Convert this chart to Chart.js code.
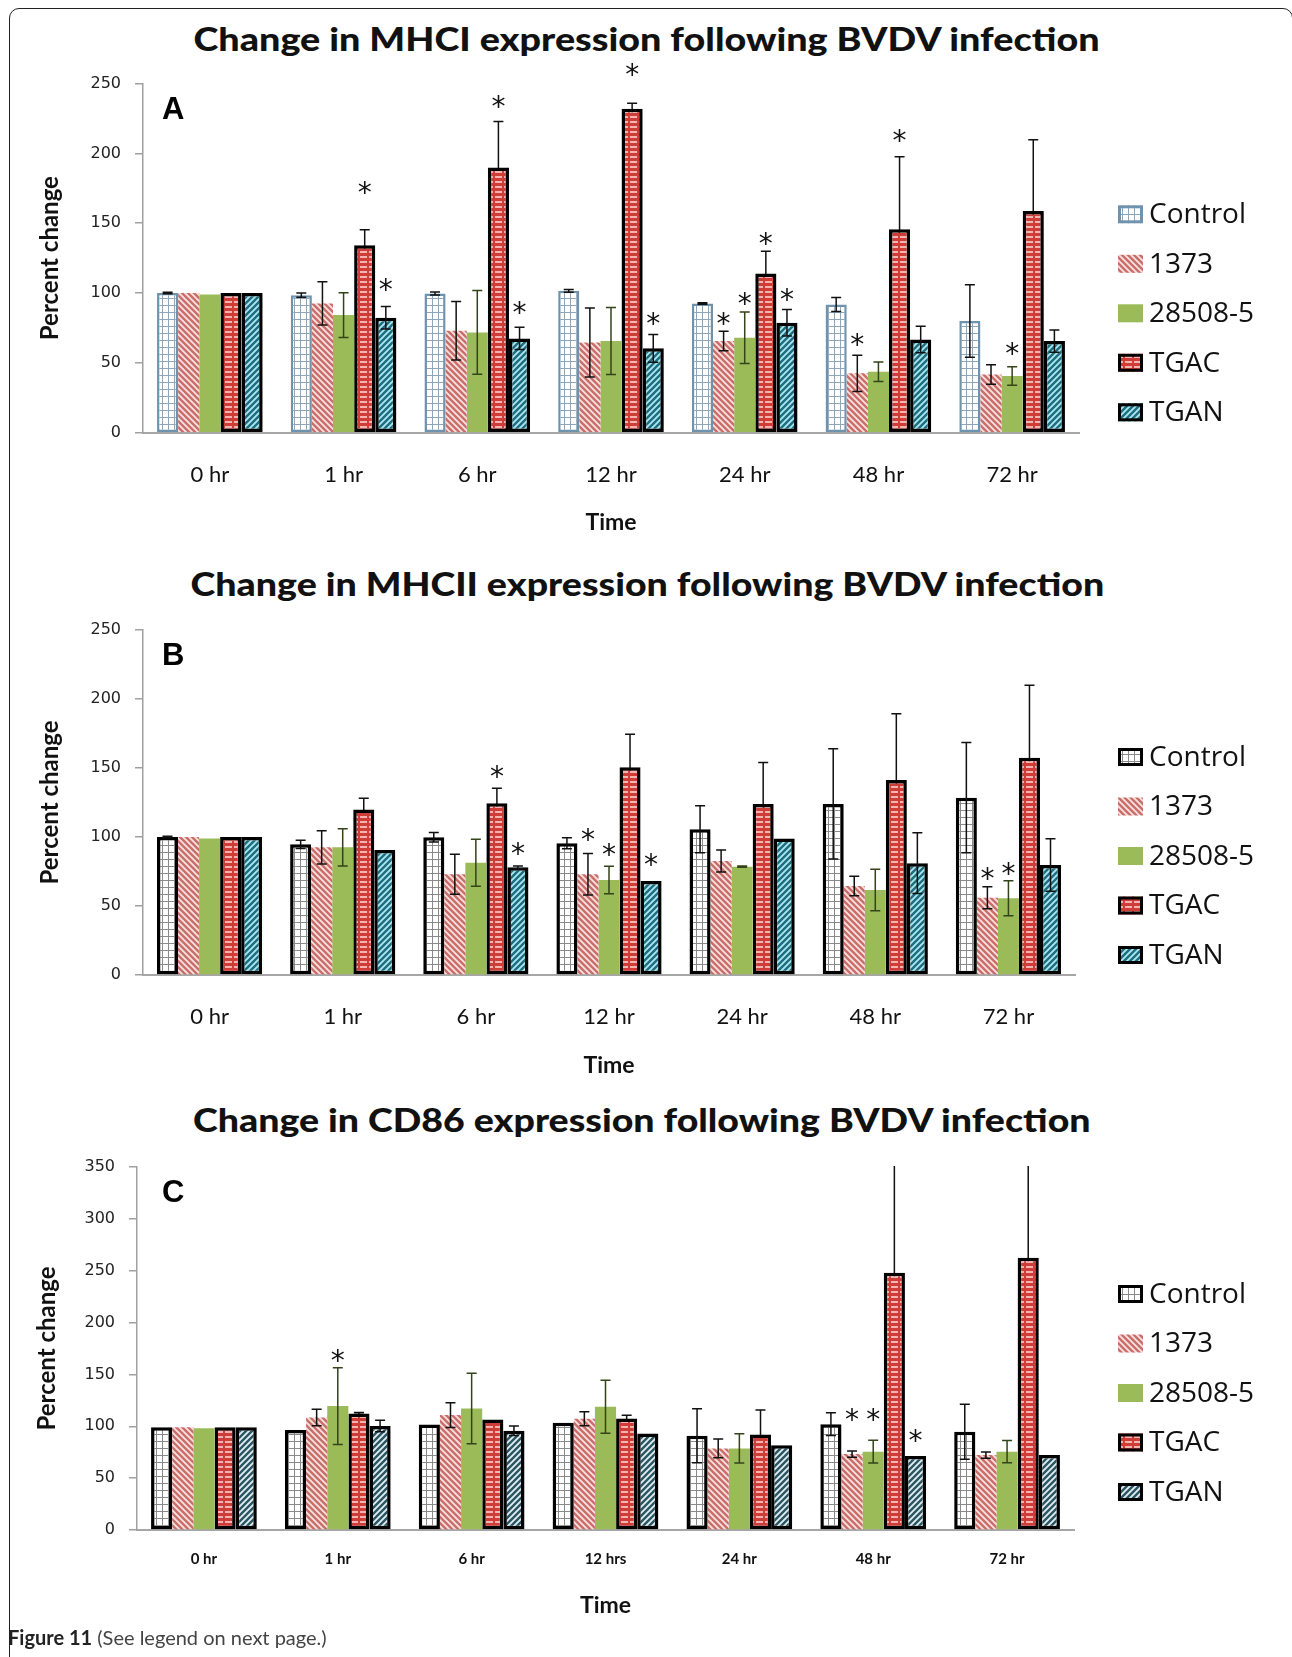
<!DOCTYPE html>
<html><head><meta charset="utf-8">
<script src="https://cdn.jsdelivr.net/npm/chart.js@4.4.0/dist/chart.umd.min.js"></script>
<style>
html,body{margin:0;padding:0;background:#fff;}
body{width:1292px;height:1657px;position:relative;overflow:hidden;font-family:Lato,sans-serif;}
.frame{position:absolute;left:9px;top:8px;width:1284px;height:1720px;border:1.5px solid #222;border-radius:10px;box-sizing:border-box;}
.ttl{position:absolute;height:40px;line-height:40px;font-family:Lato;font-weight:900;font-size:32px;white-space:nowrap;color:#111;transform-origin:50% 50%;}
canvas{position:absolute;left:0;}
.cap{position:absolute;left:8px;top:1625px;line-height:24px;font-family:Lato;font-size:20px;color:#444;white-space:nowrap;}
.cap b{color:#222;}
</style></head><body>
<div class="frame"></div>
<div class="ttl" id="tA" data-cx="646" data-cy="39" data-w="906">Change in MHCI expression following BVDV infection</div>
<div class="ttl" id="tB" data-cx="647" data-cy="584" data-w="914">Change in MHCII expression following BVDV infection</div>
<div class="ttl" id="tC" data-cx="642" data-cy="1120" data-w="898">Change in CD86 expression following BVDV infection</div>
<canvas id="cA" width="1292" height="490" style="top:60px"></canvas>
<canvas id="cB" width="1292" height="490" style="top:600px"></canvas>
<canvas id="cC" width="1292" height="500" style="top:1140px"></canvas>
<div class="cap"><b>Figure 11</b> (See legend on next page.)</div>
<script>
// ---------------- DATA ----------------
const catsAB = ['0 hr','1 hr','6 hr','12 hr','24 hr','48 hr','72 hr'];
const catsC  = ['0 hr','1 hr','6 hr','12 hrs','24 hr','48 hr','72 hr'];
const seriesNames = ['Control','1373','28508-5','TGAC','TGAN'];
const yTicksAB = [0,50,100,150,200,250];
const yTicksC  = [0,50,100,150,200,250,300,350];

// Panel A (MHCI)
const aControl    = [100, 98.5, 99.7, 101.6, 92.5, 91.8, 80];
const aControlErr = [0.5, 1.5, 1, 1, 0.5, 5, 26];
const a1373       = [100, 92.6, 73, 64.6, 65.6, 42.5, 41.7];
const a1373Err    = [0, 15.5, 21, 24.7, 7, 13, 7];
const a28508      = [99, 84.2, 71.8, 65.6, 68, 43.6, 40.6];
const a28508Err   = [0, 16, 30, 24, 18.5, 7, 6.6];
const aTGAC       = [100, 134.3, 189.9, 232, 114, 145.7, 158.8];
const aTGACErr    = [0, 11, 33, 4, 16, 52, 51];
const aTGAN       = [100, 82.3, 67.5, 60.4, 78.7, 66.8, 65.6];
const aTGANErr    = [0, 8, 8, 10, 9.5, 9.5, 8];
const aStars = [[1,3,177],[1,4,107],[2,3,238],[2,4,91],[3,3,261],[3,4,83],[4,1,83],[4,2,97],[4,3,140],[4,4,100],[5,1,68],[5,3,214],[6,2,61.5]];

// Panel B (MHCII)
const bControl    = [100, 94.7, 99.8, 95.4, 105.6, 124, 128.5];
const bControlErr = [0.5, 3, 3.5, 4, 17, 40, 40];
const b1373       = [100, 92.5, 73, 73, 82.6, 64.5, 56];
const b1373Err    = [0, 12, 14.5, 15, 8, 7, 8];
const b28508      = [99, 92.5, 81.4, 68.8, 78.5, 61.6, 55.6];
const b28508Err   = [0, 13.5, 17, 10, 0.5, 15, 12.7];
const bTGAC       = [100, 120, 124.4, 150.5, 124, 141.3, 157.5];
const bTGACErr    = [0, 8, 11, 24, 30, 48, 52.5];
const bTGAN       = [100, 90.6, 78, 68.1, 99, 81, 79.7];
const bTGANErr    = [0, 0, 1, 0, 0, 22, 19];
const bStars = [[2,3,148.6],[2,4,93],[3,1,102.7],[3,2,92],[3,4,84.5],[6,1,75],[6,2,78.5]];

// Panel C (CD86)
const cControl    = [99, 96.3, 101.8, 103.4, 90.9, 102, 94.7];
const cControlErr = [0, 0, 0, 0, 26, 11, 26.5];
const c1373       = [99, 108.5, 110.8, 107.3, 78.7, 73.2, 72.3];
const c1373Err    = [0, 8, 12, 6.7, 9, 3, 3];
const c28508      = [98, 119.5, 117.2, 118.8, 78.7, 75.5, 75.5];
const c28508Err   = [0, 37, 34, 25.5, 14, 11, 10.7];
const cTGAC       = [99, 112.4, 106.6, 107.6, 92.2, 248, 262.4];
const cTGACErr    = [0, 1, 0, 3, 23.5, 110, 95];
const cTGAN       = [99, 100.2, 95.7, 93.1, 81.6, 71.3, 72.3];
const cTGANErr    = [0, 5.5, 4.5, 0, 0, 0, 0];
const cStars = [[1,2,170],[5,1,112.4],[5,2,112.4],[5,4,92.5]];

// ---------------- PATTERNS ----------------
function pat(w,h,draw){const c=document.createElement('canvas');c.width=w;c.height=h;const x=c.getContext('2d');draw(x,w,h);return x.createPattern(c,'repeat');}
function gridPat(col){return pat(6,7,(x,w,h)=>{x.fillStyle='#fff';x.fillRect(0,0,w,h);x.fillStyle=col;x.fillRect(0,0,1,h);x.fillRect(0,0,w,1);});}
function diagPat(bg,fg,dir){return pat(6,6,(x,w,h)=>{x.fillStyle=bg;x.fillRect(0,0,w,h);x.strokeStyle=fg;x.lineWidth=1.8;x.beginPath();
  for(let k=-1;k<=1;k++){ if(dir>0){x.moveTo(k*w-1,h+1);x.lineTo(k*w+w+1,-1);} else {x.moveTo(k*w-1,-1);x.lineTo(k*w+w+1,h+1);} }
  x.stroke();});}
function dashPat(bg,fg){return pat(9,5,(x,w,h)=>{x.fillStyle=bg;x.fillRect(0,0,w,h);x.fillStyle=fg;x.fillRect(0,1,7,2);});}

const pGridA = gridPat('#8fa6b8');
const pGridBC = gridPat('#8a8a8a');
const p1373 = diagPat('#c86f6b','#fbe2e0',-1);
const pTGAC = dashPat('#cf3d39','#f6b3b0');
const pTGAN = diagPat('#1d6e7f','#aee8f2',1);
const pTGANc = diagPat('#2c5663','#e3f1f4',1);
const green = '#9bbb59';

// ---------------- PLUGIN ----------------
function drawErrors(chart, behind){
  const ctx = chart.ctx, a = chart.chartArea, ys = chart.scales.y;
  ctx.save();
  ctx.beginPath(); ctx.rect(a.left, a.top-1, a.right-a.left, a.bottom-a.top+2); ctx.clip();
  ctx.lineWidth = 1.5;
  chart.data.datasets.forEach((ds,i)=>{
    if(!!ds.errBehind !== behind) return;
    ctx.strokeStyle = ds.errColor || '#111';
    const meta = chart.getDatasetMeta(i);
    meta.data.forEach((el,j)=>{
      const e = ds.err[j]; if(!(e>0)) return;
      const v = ds.data[j];
      const y1 = ys.getPixelForValue(v+e), y2 = ys.getPixelForValue(v-e), x = el.x;
      ctx.beginPath();
      ctx.moveTo(x,y1); ctx.lineTo(x,y2);
      ctx.moveTo(x-5,y1); ctx.lineTo(x+5,y1);
      ctx.moveTo(x-5,y2); ctx.lineTo(x+5,y2);
      ctx.stroke();
    });
  });
  ctx.restore();
}
const deco = {
  id:'deco',
  beforeDatasetsDraw(chart){ drawErrors(chart, true); },
  afterDatasetsDraw(chart){
    const o = chart.options.plugins.deco, ctx = chart.ctx, ys = chart.scales.y;
    drawErrors(chart, false);
    ctx.save();
    ctx.fillStyle = '#111'; ctx.font = '28px "DejaVu Sans"'; ctx.textAlign='center'; ctx.textBaseline='alphabetic';
    o.stars.forEach(([c,s,v])=>{
      const el = chart.getDatasetMeta(s).data[c];
      ctx.fillText('*', el.x, ys.getPixelForValue(v) + 16);
    });
    ctx.restore();
  },
  afterDraw(chart){
    const o = chart.options.plugins.deco, ctx = chart.ctx, a = chart.chartArea;
    ctx.save();
    ctx.fillStyle = '#000'; ctx.font = 'bold 31px "Liberation Sans"'; ctx.textAlign='left'; ctx.textBaseline='alphabetic';
    ctx.fillText(o.letter, 162, a.top + o.letterDy);
    chart.data.datasets.forEach((ds,i)=>{
      const cy = a.top + o.lgFirst + i*o.lgStep;
      const bx = 1118, bw = 25, bh = 18;
      ctx.fillStyle = ds.backgroundColor;
      ctx.fillRect(bx, cy-bh/2, bw, bh);
      if(ds.borderWidth>0){ ctx.lineWidth = 3; ctx.strokeStyle = ds.borderColor; ctx.strokeRect(bx+1.5, cy-bh/2+1.5, bw-3, bh-3); }
      ctx.fillStyle = '#111'; ctx.font = '28px "Open Sans"'; ctx.textBaseline='middle';
      ctx.fillText(ds.label, bx+31, cy+1);
    });
    ctx.restore();
  }
};

Chart.defaults.font.family = 'Lato';

function makePanel(id, cfg){
  const ds = cfg.series.map((s,i)=>({label: seriesNames[i], data: s[0], err: s[1], backgroundColor: s[2], borderColor: s[3], borderWidth: s[4],
    errBehind: i===3, errColor: i===2 ? '#33431a' : '#111',
    borderSkipped:false, categoryPercentage:0.79, barPercentage:1.0}));
  const ticks = cfg.yticks;
  return new Chart(document.getElementById(id), {
    type:'bar',
    data:{labels: cfg.cats, datasets: ds},
    options:{
      responsive:false, animation:false, devicePixelRatio:1,
      layout:{padding:{left:20, right:1292-cfg.right, top:cfg.top-cfg.canvasTop, bottom:0}},
      plugins:{legend:{display:false}, tooltip:{enabled:false}, title:{display:false},
        deco:{stars:cfg.stars, letter:cfg.letter, letterDy:35, lgFirst:cfg.lgFirst, lgStep:49.5}},
      scales:{
        x:{ grid:{display:false, drawTicks:false}, border:{display:true, color:'#a6a6a6', width:2},
            ticks:{font:{family:'Lato', size:cfg.xfs, weight:cfg.xfw}, color:'#111', padding:cfg.xpad, maxRotation:0, autoSkip:false},
            title:{display:true, text:'Time', font:{family:'Lato', size:23, weight:'bold'}, color:'#111', padding:{top:0, bottom:cfg.tpb}},
            afterFit(s){ s.height = cfg.xh; } },
        y:{ min:ticks[0], max:ticks[ticks.length-1],
            ticks:{stepSize:ticks[1]-ticks[0], font:{family:'DejaVu Sans', size:16}, color:'#222', padding:14},
            grid:{display:true, drawOnChartArea:false, drawTicks:true, tickLength:8, color:'#a0a0a0', lineWidth:1.5},
            border:{display:true, color:'#a0a0a0', width:1.5},
            title:{display:true, text:'Percent change', font:{family:'Lato', size:24, weight:'bold'}, color:'#111', padding:{top:cfg.ytp, bottom:0}},
            afterFit(s){ s.width = cfg.left-20; } }
      }
    },
    plugins:[deco]
  });
}

makePanel('cA', {cats:catsAB, yticks:yTicksAB, stars:aStars, letter:'A', canvasTop:60, top:83.3, left:143, right:1079, xh:117.3,
  xfs:22, xfw:'normal', xpad:29, tpb:14, ytp:15.6, lgFirst:130.7,
  series:[[aControl,aControlErr,pGridA,'#6f93ad',2.5],[a1373,a1373Err,p1373,'#c86f6b',0],[a28508,a28508Err,green,green,0],[aTGAC,aTGACErr,pTGAC,'#000',3.5],[aTGAN,aTGANErr,pTGAN,'#000',3.5]]});
makePanel('cB', {cats:catsAB, yticks:yTicksAB, stars:bStars, letter:'B', canvasTop:600, top:630, left:143, right:1075, xh:115,
  xfs:22, xfw:'normal', xpad:29, tpb:11, ytp:15.6, lgFirst:127,
  series:[[bControl,bControlErr,pGridBC,'#000',3.5],[b1373,b1373Err,p1373,'#c86f6b',0],[b28508,b28508Err,green,green,0],[bTGAC,bTGACErr,pTGAC,'#000',3.5],[bTGAN,bTGANErr,pTGAN,'#000',3.5]]});
makePanel('cC', {cats:catsC, yticks:yTicksC, stars:cStars, letter:'C', canvasTop:1140, top:1167, left:137, right:1074, xh:110,
  xfs:15, xfw:'bold', xpad:20, tpb:21, ytp:13, lgFirst:127,
  series:[[cControl,cControlErr,pGridBC,'#000',3.5],[c1373,c1373Err,p1373,'#c86f6b',0],[c28508,c28508Err,green,green,0],[cTGAC,cTGACErr,pTGAC,'#000',3.5],[cTGAN,cTGANErr,pTGANc,'#000',3.5]]});

function fitTitles(){
  document.querySelectorAll('.ttl').forEach(el=>{
    el.style.transform='none';
    const w = el.offsetWidth, tw = +el.dataset.w;
    el.style.left = (+el.dataset.cx - w/2) + 'px';
    el.style.top = (+el.dataset.cy - 20) + 'px';
    el.style.transform = 'scaleX(' + (tw/w) + ')';
  });
}
fitTitles();
if(document.fonts && document.fonts.ready) document.fonts.ready.then(fitTitles);
</script>
</body></html>
